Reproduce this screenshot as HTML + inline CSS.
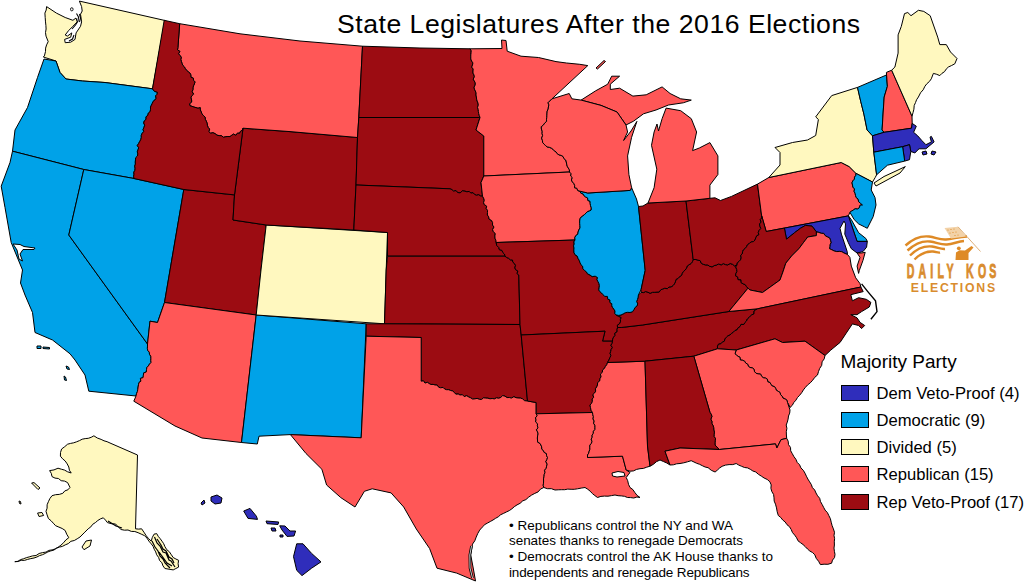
<!DOCTYPE html>
<html><head><meta charset="utf-8"><style>
html,body{margin:0;padding:0;background:#fff;width:1024px;height:584px;overflow:hidden}
svg{display:block}
text{font-family:"Liberation Sans",sans-serif}
</style></head><body>
<svg width="1024" height="584" viewBox="0 0 1024 584">
<g stroke="#000" stroke-width="1" stroke-linejoin="round">
<polygon fill="#fff8bf" points="46.6,6.6 56.4,13.1 65.2,17.5 72.9,20.3 76.0,18.0 77.2,21.9 72.9,26.3 68.5,30.7 65.2,35.0 67.4,36.1 71.8,32.9 70.7,37.2 64.6,39.4 65.2,42.7 70.7,42.2 75.0,39.4 76.1,32.9 80.5,26.3 81.6,21.9 80.5,14.2 82.2,11.0 81.6,6.6 79.4,1.1 165.0,20.5 152.5,88.8 105.0,82.5 82.5,81.0 66.0,79.0 60.0,72.5 56.0,61.0 43.3,57.0 44.4,55.9 45.5,51.5 45.6,48.1 46.6,44.9 48.2,41.6 46.0,36.1 45.5,32.6 46.1,29.0 45.9,25.4 45.5,21.9 45.2,17.5 44.9,13.1 46.2,10.0"/>
<polygon fill="#00a2e8" points="44.0,59.0 56.0,61.0 60.0,72.5 66.0,79.0 82.5,81.0 105.0,82.5 152.5,88.8 154.4,91.3 157.4,92.2 157.1,94.3 155.6,95.9 156.1,98.3 154.9,100.0 153.0,101.5 152.3,103.4 151.4,105.2 150.5,107.1 150.5,109.3 150.2,111.6 148.3,113.1 147.9,115.3 146.0,116.8 146.1,119.3 144.3,120.9 143.7,123.0 144.7,125.2 144.0,127.3 143.1,129.4 143.7,131.6 142.2,133.3 141.3,135.3 141.3,137.7 140.7,139.8 139.6,141.7 138.6,143.6 137.3,145.5 138.7,147.8 138.0,149.8 137.3,151.8 137.8,153.9 137.5,156.0 135.7,157.8 135.5,159.9 135.3,162.0 135.4,164.1 134.7,166.1 135.1,168.2 134.9,170.3 133.8,172.2 134.0,174.3 133.6,176.4 134.0,178.5 83.8,169.5 12.5,151.2 15.0,130.0 27.5,107.5 37.5,77.5"/>
<polygon fill="#00a2e8" points="12.5,151.2 83.8,169.5 68.8,235.0 147.5,344.0 147.5,346.1 147.4,348.3 147.7,350.3 149.3,352.2 149.5,354.3 150.8,356.2 150.9,358.3 150.8,360.4 151.0,362.5 149.5,364.1 148.4,365.9 146.9,367.5 146.5,369.7 146.3,372.0 143.7,372.9 143.4,375.2 143.1,377.6 140.4,378.4 140.9,381.2 139.0,382.5 138.5,384.7 138.1,387.0 137.8,389.3 137.4,391.6 136.5,393.7 136.0,396.0 88.8,391.2 85.0,375.0 75.0,360.0 70.0,353.8 52.5,340.0 35.0,332.5 32.5,312.5 25.0,295.0 20.5,283.0 22.5,270.0 11.2,242.5 5.0,207.5 1.2,186.2 10.0,162.5"/>
<polygon fill="#00a2e8" points="83.8,169.5 134.0,178.5 183.8,189.5 164.5,302.5 157.5,322.5 150.0,321.2 147.5,344.0 68.8,235.0"/>
<polygon fill="#9c0c12" points="183.8,189.5 234.5,194.9 233.0,220.0 266.2,225.0 261.0,270.0 256.2,315.0 164.5,302.5"/>
<polygon fill="#ff5757" points="164.5,302.5 256.2,315.0 241.5,442.5 202.0,438.0 175.0,426.0 133.8,401.2 136.0,396.0 136.5,393.7 137.4,391.6 137.8,389.3 138.1,387.0 138.5,384.7 139.0,382.5 140.9,381.2 140.4,378.4 143.1,377.6 143.4,375.2 143.7,372.9 146.3,372.0 146.5,369.7 146.9,367.5 148.4,365.9 149.5,364.1 151.0,362.5 150.8,360.4 150.9,358.3 150.8,356.2 149.5,354.3 149.3,352.2 147.7,350.3 147.4,348.3 147.5,346.1 147.5,344.0 150.0,321.2 157.5,322.5"/>
<polygon fill="#00a2e8" points="256.2,315.0 366.2,323.8 361.2,437.8 290.4,434.6 259.0,436.2 257.3,444.0 241.5,442.5"/>
<polygon fill="#fff8bf" points="266.2,225.0 387.5,232.5 386.2,270.0 384.5,323.8 256.2,315.0 261.0,270.0"/>
<polygon fill="#9c0c12" points="243.0,128.2 290.0,131.6 357.5,137.5 356.0,185.0 353.8,230.0 266.2,225.0 233.0,220.0 234.5,194.9"/>
<polygon fill="#ff5757" points="179.7,23.7 240.0,33.8 300.0,41.0 362.5,46.2 358.8,117.5 357.5,137.5 290.0,131.6 243.0,128.2 242.3,130.2 240.4,131.4 239.6,133.3 237.5,133.1 235.9,135.3 233.6,134.1 231.8,135.2 230.0,136.6 227.9,136.5 225.9,136.7 223.5,137.3 221.5,135.7 219.2,135.6 217.0,135.2 215.0,133.6 212.9,132.7 210.5,133.3 208.9,131.6 209.6,129.1 208.1,127.4 207.4,125.3 207.1,123.2 206.3,121.2 205.3,119.3 205.1,117.1 203.4,115.5 201.9,113.8 201.2,111.8 200.3,109.9 200.2,107.6 198.0,108.3 196.0,107.6 194.0,107.1 192.0,106.3 190.0,105.9 189.5,103.7 191.6,102.1 191.6,100.0 190.9,97.7 191.7,95.8 193.6,94.1 192.1,91.7 192.9,89.8 193.0,87.7 193.5,85.8 194.4,83.9 195.0,81.9 193.6,80.4 193.3,78.1 190.9,77.2 190.8,74.8 189.9,73.0 188.2,71.7 186.5,70.3 185.3,68.6 184.3,66.8 182.8,65.4 182.0,63.4 181.4,61.4 180.8,59.5 181.3,57.3 180.0,55.5 178.5,53.8 179.9,51.4 177.5,49.9 177.9,47.7"/>
<polygon fill="#9c0c12" points="164.2,20.3 179.7,23.7 177.9,47.7 177.5,49.9 179.9,51.4 178.5,53.8 180.0,55.5 181.3,57.3 180.8,59.5 181.4,61.4 182.0,63.4 182.8,65.4 184.3,66.8 185.3,68.6 186.5,70.3 188.2,71.7 189.9,73.0 190.8,74.8 190.9,77.2 193.3,78.1 193.6,80.4 195.0,81.9 194.4,83.9 193.5,85.8 193.0,87.7 192.9,89.8 192.1,91.7 193.6,94.1 191.7,95.8 190.9,97.7 191.6,100.0 191.6,102.1 189.5,103.7 190.0,105.9 192.0,106.3 194.0,107.1 196.0,107.6 198.0,108.3 200.2,107.6 200.3,109.9 201.2,111.8 201.9,113.8 203.4,115.5 205.1,117.1 205.3,119.3 206.3,121.2 207.1,123.2 207.4,125.3 208.1,127.4 209.6,129.1 208.9,131.6 210.5,133.3 212.9,132.7 215.0,133.6 217.0,135.2 219.2,135.6 221.5,135.7 223.5,137.3 225.9,136.7 227.9,136.5 230.0,136.6 231.8,135.2 233.6,134.1 235.9,135.3 237.5,133.1 239.6,133.3 240.4,131.4 242.3,130.2 243.0,128.2 234.5,194.9 183.8,189.5 134.0,178.5 133.6,176.4 134.0,174.3 133.8,172.2 134.9,170.3 135.1,168.2 134.7,166.1 135.4,164.1 135.3,162.0 135.5,159.9 135.7,157.8 137.5,156.0 137.8,153.9 137.3,151.8 138.0,149.8 138.7,147.8 137.3,145.5 138.6,143.6 139.6,141.7 140.7,139.8 141.3,137.7 141.3,135.3 142.2,133.3 143.7,131.6 143.1,129.4 144.0,127.3 144.7,125.2 143.7,123.0 144.3,120.9 146.1,119.3 146.0,116.8 147.9,115.3 148.3,113.1 150.2,111.6 150.5,109.3 150.5,107.1 151.4,105.2 152.3,103.4 153.0,101.5 154.9,100.0 156.1,98.3 155.6,95.9 157.1,94.3 157.4,92.2 154.4,91.3 152.5,88.8"/>
<polygon fill="#9c0c12" points="362.5,46.2 420.0,48.0 470.0,48.8 471.2,50.6 471.1,52.7 470.8,54.9 470.8,56.9 470.8,59.0 471.6,61.0 472.9,62.9 472.5,65.0 471.7,67.1 473.2,69.0 473.0,71.0 473.0,73.1 474.0,75.0 474.4,76.9 473.2,79.1 474.3,81.0 475.3,82.9 475.2,85.0 474.1,87.1 474.4,89.1 475.4,91.0 476.1,93.0 476.0,95.0 476.4,97.0 476.6,99.1 477.2,101.1 478.0,103.1 478.3,105.1 477.5,107.4 478.2,109.4 478.4,111.5 478.7,113.5 479.3,115.5 480.0,117.5 358.8,117.5"/>
<polygon fill="#9c0c12" points="358.8,117.5 480.0,117.5 476.0,130.0 483.8,136.0 483.8,176.0 481.0,182.5 482.5,196.2 480.5,196.0 478.7,194.7 476.5,195.3 474.6,194.5 473.0,192.7 470.8,193.1 469.2,191.4 466.9,191.8 465.0,191.2 462.4,190.9 460.1,192.9 457.5,192.5 456.1,190.6 453.5,191.1 451.9,189.6 450.0,188.8 356.0,185.0 357.5,137.5"/>
<polygon fill="#9c0c12" points="356.0,185.0 450.0,188.8 451.9,189.6 453.5,191.1 456.1,190.6 457.5,192.5 460.1,192.9 462.4,190.9 465.0,191.2 466.9,191.8 469.2,191.4 470.8,193.1 473.0,192.7 474.6,194.5 476.5,195.3 478.7,194.7 480.5,196.0 482.5,196.2 483.6,198.1 484.3,200.2 483.6,202.6 484.3,204.6 486.7,206.1 486.2,208.4 487.5,210.3 487.5,212.5 487.4,215.0 488.7,216.8 489.1,219.1 491.6,220.5 492.6,222.6 492.5,225.0 494.0,227.0 492.6,229.6 493.3,231.7 495.3,233.5 494.9,235.9 495.0,238.2 495.9,240.3 496.2,242.5 496.7,245.4 498.8,247.5 499.4,249.7 502.0,250.4 502.8,252.5 504.5,254.0 505.0,256.2 387.5,256.2 387.5,232.5 353.8,230.0"/>
<polygon fill="#9c0c12" points="387.5,256.2 505.0,256.2 506.7,257.5 508.7,258.3 510.3,259.8 512.5,260.0 512.8,262.1 514.5,263.6 515.5,265.3 514.9,267.8 515.6,269.7 517.9,271.0 517.0,273.5 518.8,275.0 520.0,324.5 384.5,323.8 386.2,270.0"/>
<polygon fill="#9c0c12" points="366.2,323.8 384.5,323.8 520.0,324.5 521.2,335.0 527.5,401.0 524.6,400.7 522.5,398.8 520.4,398.1 518.1,398.0 516.0,397.7 513.9,396.7 511.4,398.1 509.3,397.5 507.0,397.6 505.0,396.2 502.7,395.6 500.8,397.4 498.7,398.3 496.5,397.8 494.4,398.9 492.2,398.5 490.0,398.8 487.9,398.2 485.7,398.1 483.6,397.8 481.4,399.5 479.3,399.3 477.1,398.4 475.0,398.8 472.6,399.1 470.7,397.8 468.6,396.9 466.7,395.7 464.2,396.6 462.4,394.7 460.0,395.0 458.2,394.0 455.8,394.2 454.3,392.4 452.7,391.0 450.6,390.5 448.7,389.7 446.5,389.7 444.6,389.0 443.0,387.4 440.6,387.8 438.6,387.2 437.2,385.1 435.0,385.0 433.1,384.4 430.9,384.5 429.1,383.5 427.3,382.3 425.0,383.1 423.5,380.8 421.2,381.2 421.2,337.5 366.2,336.2"/>
<polygon fill="#ff5757" points="366.2,336.2 421.2,337.5 421.2,381.2 423.5,380.8 425.0,383.1 427.3,382.3 429.1,383.5 430.9,384.5 433.1,384.4 435.0,385.0 437.2,385.1 438.6,387.2 440.6,387.8 443.0,387.4 444.6,389.0 446.5,389.7 448.7,389.7 450.6,390.5 452.7,391.0 454.3,392.4 455.8,394.2 458.2,394.0 460.0,395.0 462.4,394.7 464.2,396.6 466.7,395.7 468.6,396.9 470.7,397.8 472.6,399.1 475.0,398.8 477.1,398.4 479.3,399.3 481.4,399.5 483.6,397.8 485.7,398.1 487.9,398.2 490.0,398.8 492.2,398.5 494.4,398.9 496.5,397.8 498.7,398.3 500.8,397.4 502.7,395.6 505.0,396.2 507.0,397.6 509.3,397.5 511.4,398.1 513.9,396.7 516.0,397.7 518.1,398.0 520.4,398.1 522.5,398.8 524.6,400.7 527.5,401.0 536.2,402.5 536.2,413.8 537.2,415.7 535.5,417.8 536.0,419.8 535.6,421.9 537.6,423.8 537.4,425.8 538.0,427.8 536.4,429.9 537.6,431.9 538.1,433.9 537.6,435.9 537.4,438.0 537.5,440.0 537.7,442.2 539.9,443.3 540.9,445.0 541.7,446.9 541.8,449.2 543.4,450.5 544.2,452.4 546.4,453.5 546.6,455.7 547.5,457.5 546.9,459.6 545.8,461.6 547.2,464.1 546.6,466.2 546.2,468.3 544.6,470.2 545.0,472.5 544.2,474.6 544.0,476.7 543.5,478.9 543.6,481.0 543.5,483.2 543.2,485.3 543.8,487.5 540.5,489.1 538.1,491.9 534.8,493.4 531.6,495.1 528.6,497.2 525.9,499.6 522.7,500.9 520.1,503.3 517.0,504.9 514.3,506.7 511.9,508.8 509.3,510.6 506.3,512.0 503.5,513.4 500.7,514.7 498.3,516.8 495.6,518.3 493.0,520.0 490.3,521.5 487.6,523.0 484.9,524.5 482.2,527.2 479.7,530.1 477.8,533.4 476.2,537.1 474.8,540.8 472.5,544.1 470.7,554.8 473.4,569.0 475.5,581.0 456.7,573.1 437.0,568.2 429.6,548.5 416.3,529.0 403.7,507.0 391.1,492.9 372.2,488.8 364.4,491.3 355.0,507.0 340.8,497.6 326.6,485.0 321.9,469.3 306.0,453.5 290.4,434.6 361.2,437.8"/>
<polygon fill="#ff5757" points="470.0,48.8 502.0,48.5 501.5,40.0 506.0,40.5 507.2,51.2 521.0,56.2 538.5,57.5 556.0,61.6 566.5,63.0 579.8,64.3 587.8,65.6 552.0,98.8 548.0,102.8 548.9,104.9 548.4,107.0 548.2,109.0 547.2,111.1 547.0,113.1 546.9,115.2 546.8,117.3 546.5,119.3 546.6,121.4 544.7,123.1 543.3,125.2 541.3,126.7 541.4,129.0 542.2,131.2 542.1,133.5 542.6,135.7 541.6,138.1 542.4,140.3 542.7,142.6 544.1,144.2 545.6,145.6 547.1,146.9 549.3,147.3 551.3,148.1 552.9,149.2 554.3,150.8 556.0,151.9 557.2,153.6 558.9,154.8 561.1,155.4 563.0,156.4 563.9,158.5 565.7,160.0 566.3,162.0 566.7,164.1 567.2,166.2 568.3,168.0 569.4,169.8 569.5,172.0 483.8,176.0 483.8,136.0 476.0,130.0 480.0,117.5 479.3,115.5 478.7,113.5 478.4,111.5 478.2,109.4 477.5,107.4 478.3,105.1 478.0,103.1 477.2,101.1 476.6,99.1 476.4,97.0 476.0,95.0 476.1,93.0 475.4,91.0 474.4,89.1 474.1,87.1 475.2,85.0 475.3,82.9 474.3,81.0 473.2,79.1 474.4,76.9 474.0,75.0 473.0,73.1 473.0,71.0 473.2,69.0 471.7,67.1 472.5,65.0 472.9,62.9 471.6,61.0 470.8,59.0 470.8,56.9 470.8,54.9 471.1,52.7 471.2,50.6"/>
<polygon fill="#ff5757" points="483.8,176.0 569.5,172.0 571.1,173.7 570.7,176.0 572.3,177.6 571.4,180.0 572.4,181.9 573.9,183.6 574.7,185.5 574.5,187.7 576.8,188.2 577.8,190.6 580.0,191.2 580.9,193.2 583.0,193.9 584.1,195.8 585.7,197.0 587.6,197.9 587.9,200.5 590.0,201.2 590.2,203.5 590.5,205.6 591.3,207.8 591.2,210.0 589.4,211.0 587.4,211.7 586.0,213.2 584.5,214.5 582.9,215.9 581.2,217.0 580.0,218.8 579.7,221.0 579.7,223.3 579.9,225.6 580.0,227.9 578.8,230.0 578.1,232.0 577.8,234.2 575.7,235.7 574.8,237.7 575.0,240.0 496.2,242.5 495.9,240.3 495.0,238.2 494.9,235.9 495.3,233.5 493.3,231.7 492.6,229.6 494.0,227.0 492.5,225.0 492.6,222.6 491.6,220.5 489.1,219.1 488.7,216.8 487.4,215.0 487.5,212.5 487.5,210.3 486.2,208.4 486.7,206.1 484.3,204.6 483.6,202.6 484.3,200.2 483.6,198.1 482.5,196.2 481.0,182.5"/>
<polygon fill="#9c0c12" points="496.2,242.5 575.0,240.0 573.9,241.9 574.2,244.0 573.5,245.9 574.0,248.0 573.8,250.0 574.0,252.5 574.9,254.6 577.2,256.1 578.0,258.3 579.2,260.3 580.0,262.5 580.9,264.6 582.6,266.2 582.9,268.7 584.4,270.4 586.4,271.8 587.5,273.8 590.0,275.0 592.2,276.6 595.2,276.2 597.5,277.5 597.0,279.7 598.0,281.7 599.0,283.7 599.4,285.7 599.1,287.9 598.8,290.0 600.0,291.8 601.7,293.1 603.2,294.7 604.6,296.4 607.4,296.4 607.8,299.2 610.0,300.0 609.8,302.3 611.8,303.7 611.8,305.8 612.7,307.7 614.0,309.3 615.0,311.1 614.8,313.4 616.2,315.0 618.7,316.3 621.2,317.5 620.4,319.5 620.5,321.8 619.6,323.7 617.4,325.2 617.5,327.5 617.1,329.6 617.1,331.8 614.8,333.2 615.0,335.5 613.6,337.2 612.7,339.1 612.5,341.2 602.5,341.2 605.0,331.2 521.2,335.0 520.0,324.5 518.8,275.0 517.0,273.5 517.9,271.0 515.6,269.7 514.9,267.8 515.5,265.3 514.5,263.6 512.8,262.1 512.5,260.0 510.3,259.8 508.7,258.3 506.7,257.5 505.0,256.2 504.5,254.0 502.8,252.5 502.0,250.4 499.4,249.7 498.8,247.5 496.7,245.4"/>
<polygon fill="#9c0c12" points="521.2,335.0 605.0,331.2 602.5,341.2 612.5,341.2 612.2,343.3 610.9,345.2 612.4,347.5 611.2,349.4 610.7,351.4 610.1,353.4 610.9,355.6 610.0,357.5 608.9,360.1 607.5,362.5 606.8,364.7 605.4,366.5 604.4,368.5 602.5,370.0 602.4,372.3 600.4,374.1 601.1,376.7 600.0,378.7 599.7,381.0 597.6,382.6 597.5,385.0 596.7,387.0 595.4,388.8 595.7,391.2 594.6,393.0 592.9,394.7 593.7,397.3 592.2,399.0 592.4,401.3 591.6,403.3 590.0,405.0 590.5,407.6 591.0,410.2 592.5,412.5 536.2,413.8 536.2,402.5 527.5,401.0"/>
<polygon fill="#ff5757" points="536.2,413.8 592.5,412.5 592.8,414.7 593.4,416.7 593.0,419.0 594.2,421.0 593.6,423.3 594.9,425.3 595.0,427.5 594.9,429.6 593.4,431.3 593.3,433.4 592.1,435.2 592.2,437.3 591.2,439.1 592.0,441.5 591.4,443.4 589.9,445.1 589.8,447.2 589.9,449.3 589.2,451.2 588.7,453.2 587.5,455.0 587.5,457.5 622.5,456.2 626.2,470.0 630.0,472.5 628.1,474.9 626.2,477.5 627.7,480.7 628.5,484.3 630.0,487.5 632.9,489.6 634.9,492.6 637.1,495.4 640.0,497.5 636.9,497.0 633.8,498.0 630.6,497.6 627.5,497.5 624.5,496.3 621.3,495.9 618.1,495.7 615.0,495.0 611.5,495.6 608.0,496.2 604.4,496.1 600.9,496.4 597.5,497.5 594.9,495.6 592.4,493.6 590.2,491.2 587.7,489.2 585.0,487.5 581.2,488.1 577.5,488.8 574.3,489.3 571.1,489.3 567.8,489.1 564.7,489.7 561.4,489.7 558.2,489.8 555.0,490.0 551.4,488.7 547.4,488.7 543.8,487.5 543.2,485.3 543.5,483.2 543.6,481.0 543.5,478.9 544.0,476.7 544.2,474.6 545.0,472.5 544.6,470.2 546.2,468.3 546.6,466.2 547.2,464.1 545.8,461.6 546.9,459.6 547.5,457.5 546.6,455.7 546.4,453.5 544.2,452.4 543.4,450.5 541.8,449.2 541.7,446.9 540.9,445.0 539.9,443.3 537.7,442.2 537.5,440.0 537.4,438.0 537.6,435.9 538.1,433.9 537.6,431.9 536.4,429.9 538.0,427.8 537.4,425.8 537.6,423.8 535.6,421.9 536.0,419.8 535.5,417.8 537.2,415.7"/>
<polygon fill="#ff5757" points="607.5,362.5 645.0,361.2 647.5,446.0 650.0,466.2 646.7,467.2 643.4,468.4 640.0,468.7 636.6,469.4 633.5,470.9 630.0,471.2 626.2,470.0 622.5,456.2 587.5,457.5 587.5,455.0 588.7,453.2 589.2,451.2 589.9,449.3 589.8,447.2 589.9,445.1 591.4,443.4 592.0,441.5 591.2,439.1 592.2,437.3 592.1,435.2 593.3,433.4 593.4,431.3 594.9,429.6 595.0,427.5 594.9,425.3 593.6,423.3 594.2,421.0 593.0,419.0 593.4,416.7 592.8,414.7 592.5,412.5 591.0,410.2 590.5,407.6 590.0,405.0 591.6,403.3 592.4,401.3 592.2,399.0 593.7,397.3 592.9,394.7 594.6,393.0 595.7,391.2 595.4,388.8 596.7,387.0 597.5,385.0 597.6,382.6 599.7,381.0 600.0,378.7 601.1,376.7 600.4,374.1 602.4,372.3 602.5,370.0 604.4,368.5 605.4,366.5 606.8,364.7"/>
<polygon fill="#9c0c12" points="621.2,327.5 642.5,325.0 728.8,311.5 757.5,308.8 755.7,309.9 754.0,311.1 754.0,313.9 751.9,314.8 750.2,316.1 749.0,317.7 747.3,319.0 746.5,321.1 745.0,322.5 743.8,324.5 741.0,324.4 740.0,326.7 738.1,327.8 737.0,329.9 734.8,330.6 733.4,332.3 731.5,333.4 730.0,335.0 727.9,335.9 726.4,337.3 725.0,338.9 724.3,341.3 722.3,342.1 720.9,343.8 718.5,344.2 717.5,346.2 717.5,348.8 693.8,356.2 645.0,361.2 607.5,362.5 608.9,360.1 610.0,357.5 610.9,355.6 610.1,353.4 610.7,351.4 611.2,349.4 612.4,347.5 610.9,345.2 612.2,343.3 612.5,341.2 612.7,339.1 613.6,337.2 615.0,335.5 614.8,333.2 617.1,331.8 617.1,329.6 617.5,327.5"/>
<polygon fill="#9c0c12" points="616.2,315.0 618.7,315.4 621.0,315.0 623.2,313.9 625.3,312.7 627.6,312.3 630.0,312.5 632.5,311.7 633.9,309.7 635.1,307.4 637.0,306.0 637.7,303.9 636.6,301.5 637.5,299.4 638.1,297.2 638.4,295.0 641.1,292.3 643.4,292.6 645.7,291.5 648.0,292.3 650.2,293.3 652.5,292.3 654.8,292.3 657.0,292.1 659.2,292.0 660.8,289.7 662.8,289.0 664.8,288.2 667.3,288.7 669.0,287.0 671.2,286.8 673.1,285.5 674.4,283.8 675.4,281.8 676.0,279.4 678.2,278.4 679.5,276.6 681.5,275.5 682.2,273.2 683.5,271.4 685.2,270.0 686.5,268.2 687.2,266.0 689.1,264.7 691.1,263.5 692.4,261.7 693.2,259.5 695.9,259.5 698.0,260.2 700.2,260.6 701.3,263.3 703.3,264.3 705.4,264.9 707.8,265.0 709.6,266.3 712.1,266.9 714.2,265.6 716.5,265.0 718.6,264.0 721.2,264.9 723.3,263.6 725.5,264.6 727.8,264.9 730.2,263.5 732.5,264.3 734.6,265.9 737.0,265.0 735.7,267.0 736.7,269.4 736.9,271.6 735.8,273.7 735.6,275.9 737.7,276.9 738.1,279.6 741.0,279.8 741.2,282.7 743.2,283.8 745.3,284.7 746.5,286.6 748.0,288.2 728.8,311.5 642.5,325.0 621.2,327.5 617.5,327.5 617.4,325.2 619.6,323.7 620.5,321.8 620.4,319.5 621.2,317.5 618.7,316.3"/>
<polygon fill="#00a2e8" points="580.0,191.2 587.8,193.0 630.3,190.4 631.6,187.7 636.5,199.0 638.5,206.5 645.2,270.4 641.1,289.6 638.4,295.0 638.1,297.2 637.5,299.4 636.6,301.5 637.7,303.9 637.0,306.0 635.1,307.4 633.9,309.7 632.5,311.7 630.0,312.5 627.6,312.3 625.3,312.7 623.2,313.9 621.0,315.0 618.7,315.4 616.2,315.0 614.8,313.4 615.0,311.1 614.0,309.3 612.7,307.7 611.8,305.8 611.8,303.7 609.8,302.3 610.0,300.0 607.8,299.2 607.4,296.4 604.6,296.4 603.2,294.7 601.7,293.1 600.0,291.8 598.8,290.0 599.1,287.9 599.4,285.7 599.0,283.7 598.0,281.7 597.0,279.7 597.5,277.5 595.2,276.2 592.2,276.6 590.0,275.0 587.5,273.8 586.4,271.8 584.4,270.4 582.9,268.7 582.6,266.2 580.9,264.6 580.0,262.5 579.2,260.3 578.0,258.3 577.2,256.1 574.9,254.6 574.0,252.5 573.8,250.0 574.0,248.0 573.5,245.9 574.2,244.0 573.9,241.9 575.0,240.0 574.8,237.7 575.7,235.7 577.8,234.2 578.1,232.0 578.8,230.0 580.0,227.9 579.9,225.6 579.7,223.3 579.7,221.0 580.0,218.8 581.2,217.0 582.9,215.9 584.5,214.5 586.0,213.2 587.4,211.7 589.4,211.0 591.2,210.0 591.3,207.8 590.5,205.6 590.2,203.5 590.0,201.2 587.9,200.5 587.6,197.9 585.7,197.0 584.1,195.8 583.0,193.9 580.9,193.2"/>
<polygon fill="#9c0c12" points="638.5,206.5 643.0,206.0 648.0,203.0 686.0,201.0 693.2,259.5 692.4,261.7 691.1,263.5 689.1,264.7 687.2,266.0 686.5,268.2 685.2,270.0 683.5,271.4 682.2,273.2 681.5,275.5 679.5,276.6 678.2,278.4 676.0,279.4 675.4,281.8 674.4,283.8 673.1,285.5 671.2,286.8 669.0,287.0 667.3,288.7 664.8,288.2 662.8,289.0 660.8,289.7 659.2,292.0 657.0,292.1 654.8,292.3 652.5,292.3 650.2,293.3 648.0,292.3 645.7,291.5 643.4,292.6 641.1,292.3 641.1,289.6 645.2,270.4"/>
<polygon fill="#9c0c12" points="686.0,201.0 709.9,198.3 715.0,197.8 720.5,200.5 731.5,196.4 757.5,184.1 761.6,215.6 761.9,217.8 760.2,219.7 761.1,222.1 759.5,224.0 759.9,226.2 760.8,228.5 759.1,230.5 758.3,232.5 758.9,234.8 756.8,235.7 755.8,237.8 755.0,240.0 753.5,241.6 750.9,242.0 749.4,243.5 747.5,244.7 746.5,246.8 745.2,248.5 743.4,249.9 742.6,251.8 742.3,253.9 740.7,255.4 741.2,257.9 740.5,259.9 739.1,261.5 737.3,262.8 737.0,265.0 734.6,265.9 732.5,264.3 730.2,263.5 727.8,264.9 725.5,264.6 723.3,263.6 721.2,264.9 718.6,264.0 716.5,265.0 714.2,265.6 712.1,266.9 709.6,266.3 707.8,265.0 705.4,264.9 703.3,264.3 701.3,263.3 700.2,260.6 698.0,260.2 695.9,259.5 693.2,259.5"/>
<polygon fill="#ff5757" points="666.1,108.1 680.7,110.7 691.3,118.7 696.6,132.0 692.6,150.6 699.3,148.0 709.9,142.6 717.9,155.9 717.9,174.5 709.9,185.1 709.9,198.3 686.0,201.0 648.0,203.0 654.1,187.7 656.8,169.2 651.5,145.3 654.1,132.0 657.0,124.0 658.5,131.0 662.1,118.7"/>
<polygon fill="#ff5757" points="581.1,100.1 595.7,90.8 607.7,84.2 611.7,76.2 619.6,76.2 610.3,84.2 610.3,89.5 619.6,88.2 632.9,96.1 646.2,94.8 662.1,86.9 670.1,93.5 680.7,98.8 691.3,100.1 683.3,102.8 668.5,105.0 656.0,110.0 643.5,113.8 633.5,121.2 626.0,125.0 617.0,112.0 601.0,105.4"/>
<polygon fill="#ff5757" points="552.0,98.8 569.2,93.5 571.9,98.8 581.1,100.1 601.0,105.4 617.0,112.0 626.0,125.0 627.6,132.0 623.6,140.5 631.0,131.0 636.9,121.4 634.0,130.0 631.6,137.3 627.6,155.9 628.9,174.5 631.6,187.7 630.3,190.4 587.8,193.0 580.0,191.2 577.8,190.6 576.8,188.2 574.5,187.7 574.7,185.5 573.9,183.6 572.4,181.9 571.4,180.0 572.3,177.6 570.7,176.0 571.1,173.7 569.5,172.0 569.4,169.8 568.3,168.0 567.2,166.2 566.7,164.1 566.3,162.0 565.7,160.0 563.9,158.5 563.0,156.4 561.1,155.4 558.9,154.8 557.2,153.6 556.0,151.9 554.3,150.8 552.9,149.2 551.3,148.1 549.3,147.3 547.1,146.9 545.6,145.6 544.1,144.2 542.7,142.6 542.4,140.3 541.6,138.1 542.6,135.7 542.1,133.5 542.2,131.2 541.4,129.0 541.3,126.7 543.3,125.2 544.7,123.1 546.6,121.4 546.5,119.3 546.8,117.3 546.9,115.2 547.0,113.1 547.2,111.1 548.2,109.0 548.4,107.0 548.9,104.9 548.0,102.8"/>
<polygon fill="#ff5757" points="757.5,184.1 768.8,177.5 841.2,162.5 849.2,166.6 856.0,173.4 855.8,175.4 854.5,177.2 854.4,179.2 852.8,180.9 852.0,182.8 852.5,185.0 852.9,187.1 854.5,188.9 854.1,191.3 855.1,193.3 855.5,195.4 856.2,197.5 858.1,199.1 858.7,201.8 860.6,203.4 862.5,205.0 860.2,205.1 859.3,207.8 857.6,209.0 855.1,208.8 853.4,210.0 851.6,211.1 849.9,212.3 848.4,215.9 766.2,231.5 761.6,215.6"/>
<polygon fill="#fff8bf" points="768.8,177.5 780.0,165.0 780.0,152.5 775.0,147.5 792.5,142.5 807.5,140.0 815.7,135.5 818.4,119.5 815.7,116.9 831.7,95.6 857.5,87.4 860.7,101.3 863.9,114.1 867.1,130.0 872.5,135.8 873.8,152.2 876.6,174.8 875.2,177.5 872.5,182.0 856.0,173.4 849.2,166.6 841.2,162.5"/>
<polygon fill="#fff8bf" points="874.0,183.0 884.0,176.5 897.0,170.5 905.3,166.6 900.0,173.0 888.0,179.5 876.0,186.0"/>
<polygon fill="#00a2e8" points="856.0,173.4 872.5,182.0 871.2,190.0 875.0,197.5 876.0,205.0 873.2,216.6 867.3,228.3 864.4,226.8 858.6,223.9 854.2,219.6 849.9,212.3 851.6,211.1 853.4,210.0 855.1,208.8 857.6,209.0 859.3,207.8 860.2,205.1 862.5,205.0 860.6,203.4 858.7,201.8 858.1,199.1 856.2,197.5 855.5,195.4 855.1,193.3 854.1,191.3 854.5,188.9 852.9,187.1 852.5,185.0 852.0,182.8 852.8,180.9 854.4,179.2 854.5,177.2 855.8,175.4"/>
<polygon fill="#00a2e8" points="848.4,215.9 851.3,219.6 858.6,232.7 865.9,238.5 867.3,241.4 857.1,241.4"/>
<polygon fill="#2f2dbb" points="784.4,228.1 848.4,215.9 857.1,241.4 867.3,241.4 866.6,247.2 863.0,251.6 857.1,253.0 851.3,248.7 848.4,242.8 844.8,234.1 845.5,223.9 844.0,221.0 840.0,228.3 841.4,234.1 844.3,242.8 847.2,251.6 847.5,254.5 844.0,253.0 841.8,251.7 839.3,251.4 836.8,251.6 834.2,251.0 831.9,249.8 829.5,248.7 829.8,246.7 830.0,244.6 831.0,242.8 830.5,240.2 829.5,237.8 827.2,236.8 825.1,235.6 823.7,233.4 821.2,233.3 818.8,232.4 816.4,231.9 812.0,226.1 805.5,225.4 800.4,228.3 794.6,232.7 786.5,239.2"/>
<polygon fill="#9c0c12" points="761.6,215.6 766.2,231.5 784.4,228.1 786.5,239.2 794.6,232.7 800.4,228.3 805.5,225.4 812.0,226.1 816.4,231.9 816.4,235.6 807.7,237.0 803.3,242.8 798.9,248.7 791.6,256.0 785.8,263.2 782.9,272.0 780.0,280.0 762.5,292.5 750.0,290.0 748.0,288.2 746.5,286.6 745.3,284.7 743.2,283.8 741.2,282.7 741.0,279.8 738.1,279.6 737.7,276.9 735.6,275.9 735.8,273.7 736.9,271.6 736.7,269.4 735.7,267.0 737.0,265.0 737.3,262.8 739.1,261.5 740.5,259.9 741.2,257.9 740.7,255.4 742.3,253.9 742.6,251.8 743.4,249.9 745.2,248.5 746.5,246.8 747.5,244.7 749.4,243.5 750.9,242.0 753.5,241.6 755.0,240.0 755.8,237.8 756.8,235.7 758.9,234.8 758.3,232.5 759.1,230.5 760.8,228.5 759.9,226.2 759.5,224.0 761.1,222.1 760.2,219.7 761.9,217.8"/>
<polygon fill="#ff5757" points="728.8,311.5 748.0,288.2 750.0,290.0 762.5,292.5 780.0,280.0 782.9,272.0 785.8,263.2 791.6,256.0 798.9,248.7 803.3,242.8 807.7,237.0 816.4,235.6 816.4,231.9 818.8,232.4 821.2,233.3 823.7,233.4 825.1,235.6 827.2,236.8 829.5,237.8 830.5,240.2 831.0,242.8 830.0,244.6 829.8,246.7 829.5,248.7 831.9,249.8 834.2,251.0 836.8,251.6 839.3,251.4 841.8,251.7 844.0,253.0 847.5,254.5 849.9,257.4 851.3,266.1 855.7,277.8 860.0,283.6 860.9,287.0 757.5,308.8"/>
<polygon fill="#ff5757" points="857.1,253.0 861.5,253.0 865.2,252.3 863.0,260.3 859.3,270.5 858.6,273.4 857.1,266.1 860.0,257.4"/>
<polygon fill="#9c0c12" points="757.5,308.8 860.9,287.0 863.2,291.6 850.8,294.7 852.4,300.8 858.6,297.7 866.3,299.3 870.9,302.4 869.3,307.0 861.6,311.6 857.0,314.7 850.8,314.7 857.0,317.8 860.1,322.4 864.7,325.5 861.6,328.6 858.6,325.5 852.4,323.9 846.2,333.2 840.1,342.4 830.8,350.1 825.0,355.5 805.0,341.2 782.5,342.5 775.0,338.8 736.2,350.0 717.5,348.8 717.5,346.2 718.5,344.2 720.9,343.8 722.3,342.1 724.3,341.3 725.0,338.9 726.4,337.3 727.9,335.9 730.0,335.0 731.5,333.4 733.4,332.3 734.8,330.6 737.0,329.9 738.1,327.8 740.0,326.7 741.0,324.4 743.8,324.5 745.0,322.5 746.5,321.1 747.3,319.0 749.0,317.7 750.2,316.1 751.9,314.8 754.0,313.9 754.0,311.1 755.7,309.9"/>
<polygon fill="#ff5757" points="736.2,350.0 775.0,338.8 782.5,342.5 805.0,341.2 825.0,355.5 824.2,358.9 822.1,361.8 821.7,365.4 819.7,368.4 818.5,371.6 817.5,375.0 814.8,377.3 812.7,380.2 810.3,382.8 807.5,385.0 805.4,387.4 803.4,389.9 801.7,392.7 799.7,395.2 797.5,397.5 795.9,400.2 793.8,402.5 792.3,405.3 790.0,407.5 788.9,404.9 787.5,402.5 787.0,400.3 785.2,399.0 783.0,398.1 782.1,396.2 780.6,394.7 780.0,392.5 778.3,391.4 776.4,390.3 775.6,388.3 774.5,386.6 772.2,386.0 771.0,384.4 770.0,382.5 767.9,381.9 767.3,379.1 765.5,378.1 763.2,377.7 761.6,376.3 760.6,374.1 758.2,373.9 756.1,373.3 754.6,371.8 754.0,369.2 752.3,367.9 750.0,367.5 748.4,366.3 747.6,364.1 745.7,363.1 744.7,361.3 742.8,360.3 740.3,360.0 740.0,357.3 738.1,356.4 736.5,355.1 735.0,353.8"/>
<polygon fill="#ff5757" points="693.8,356.2 717.5,348.8 736.2,350.0 735.0,353.8 736.5,355.1 738.1,356.4 740.0,357.3 740.3,360.0 742.8,360.3 744.7,361.3 745.7,363.1 747.6,364.1 748.4,366.3 750.0,367.5 752.3,367.9 754.0,369.2 754.6,371.8 756.1,373.3 758.2,373.9 760.6,374.1 761.6,376.3 763.2,377.7 765.5,378.1 767.3,379.1 767.9,381.9 770.0,382.5 771.0,384.4 772.2,386.0 774.5,386.6 775.6,388.3 776.4,390.3 778.3,391.4 780.0,392.5 780.6,394.7 782.1,396.2 783.0,398.1 785.2,399.0 787.0,400.3 787.5,402.5 790.0,410.0 789.7,413.1 788.5,416.0 788.1,419.1 787.3,422.1 786.2,425.0 786.9,428.3 786.3,431.7 786.4,435.0 786.7,438.3 781.0,439.7 776.9,448.0 775.5,443.9 719.3,449.5 715.0,445.0 715.0,442.8 715.2,440.7 715.5,438.5 714.0,436.5 714.1,434.3 714.4,432.1 713.8,430.0 713.7,427.7 713.1,425.6 711.9,423.5 711.9,421.2 710.8,419.2 711.9,416.7 711.4,414.5 710.0,412.5"/>
<polygon fill="#9c0c12" points="645.0,361.2 693.8,356.2 710.0,412.5 711.4,414.5 711.9,416.7 710.8,419.2 711.9,421.2 711.9,423.5 713.1,425.6 713.7,427.7 713.8,430.0 714.4,432.1 714.1,434.3 714.0,436.5 715.5,438.5 715.2,440.7 715.0,442.8 715.0,445.0 719.3,449.5 680.0,448.0 665.0,451.2 670.0,465.0 666.8,463.0 663.4,461.5 660.0,460.0 656.4,461.7 653.4,464.3 650.0,466.2 647.5,446.0"/>
<polygon fill="#ff5757" points="665.0,451.2 680.0,448.0 719.3,449.5 775.5,443.9 776.9,448.0 781.0,439.7 786.7,438.3 788.2,441.2 788.5,444.6 790.5,447.4 790.7,450.8 792.3,453.7 793.9,456.6 795.9,459.3 797.2,462.4 799.6,464.8 800.9,467.9 803.3,470.3 805.0,473.2 806.4,476.2 807.9,479.1 809.6,481.8 811.3,484.5 812.4,487.6 814.7,490.0 816.0,493.0 817.6,495.8 819.7,498.3 820.5,501.6 822.1,504.4 823.6,507.3 825.1,510.1 827.4,512.6 828.8,515.5 830.4,518.7 831.2,522.2 832.1,525.6 833.4,528.9 834.5,532.3 834.0,535.5 834.6,538.6 834.3,541.8 834.4,545.0 834.0,548.1 834.4,551.3 835.0,554.4 834.5,557.6 832.5,560.1 831.6,563.2 827.9,564.3 824.1,564.2 820.4,564.6 818.6,561.3 816.2,558.3 814.8,554.8 812.6,552.6 809.8,551.0 807.5,549.0 805.3,546.7 803.0,544.5 800.5,542.7 798.0,540.8 796.6,537.8 794.7,535.1 792.5,532.6 791.2,529.5 789.5,526.7 787.0,524.7 785.2,522.0 782.7,520.0 780.8,517.5 778.3,515.5 777.2,511.8 776.5,507.9 775.5,504.2 774.2,501.1 774.0,497.8 773.6,494.5 771.8,491.5 770.9,488.3 771.2,484.9 769.9,481.8 767.3,479.5 764.1,478.0 761.3,476.1 758.4,474.3 755.8,472.0 752.9,471.0 750.3,469.3 747.6,467.9 744.5,467.5 741.6,466.3 738.8,465.1 736.2,463.5 732.8,464.6 729.1,464.6 725.5,465.1 722.1,466.3 719.6,468.0 717.4,470.1 715.1,472.0 711.3,470.3 708.1,467.7 705.1,467.0 702.3,465.7 699.6,464.3 696.7,463.3 694.0,462.0 691.2,460.7 687.5,461.8 683.8,462.8 680.0,463.5 676.6,463.8 673.4,464.8 670.0,465.0"/>
<polygon fill="#00a2e8" points="857.5,87.4 886.4,75.0 887.4,86.3 884.2,97.0 883.2,112.0 882.1,130.0 884.1,132.3 872.5,135.8 867.1,130.0 863.9,114.1 860.7,101.3"/>
<polygon fill="#ff5757" points="886.4,72.4 891.7,70.2 912.0,116.2 912.2,123.4 911.5,128.2 884.1,132.3 882.1,130.0 883.2,112.0 884.2,97.0 887.4,86.3"/>
<polygon fill="#fff8bf" points="904.5,13.6 907.8,12.5 911.0,15.7 918.4,10.3 923.8,11.4 930.2,15.7 937.7,37.1 939.8,44.6 946.3,44.6 950.5,52.0 957.0,58.5 954.8,63.8 951.6,65.5 948.4,67.0 946.2,69.1 944.5,71.7 941.9,73.4 939.8,75.6 936.7,74.3 933.4,73.4 931.3,78.8 929.4,81.5 926.9,83.7 924.9,86.3 923.2,89.8 920.6,92.7 918.4,97.0 916.6,99.7 915.5,102.6 914.2,105.5 913.9,109.2 913.0,112.7 912.0,116.2 891.7,70.2 894.9,67.0 898.1,53.1 898.1,34.9 901.3,26.4"/>
<polygon fill="#2f2dbb" points="872.5,135.8 884.1,132.3 911.5,128.2 912.2,123.4 916.3,126.2 913.6,132.3 917.7,135.8 921.8,140.5 925.9,144.7 931.4,141.9 930.0,137.1 931.4,136.4 934.1,141.9 925.9,148.8 919.0,148.8 914.9,152.9 910.8,151.5 909.5,144.7 902.6,146.7 873.8,152.2"/>
<polygon fill="#2f2dbb" points="902.6,146.7 909.5,144.7 910.8,151.5 909.5,159.7 904.7,161.1"/>
<polygon fill="#00a2e8" points="873.8,152.2 902.6,146.7 904.7,161.1 887.5,165.2 876.6,174.8"/>
<polygon fill="#2f2dbb" points="922.0,152.0 926.0,151.0 927.0,154.0 923.0,155.0"/>
<polygon fill="#2f2dbb" points="932.0,151.0 936.0,152.0 934.0,155.0 931.0,154.0"/>
<polygon fill="#fff8bf" points="61.6,449.0 64.7,446.7 67.6,444.2 70.6,443.4 73.7,442.8 76.6,441.8 79.5,440.6 82.2,439.2 85.2,438.6 88.3,438.3 91.2,437.3 93.9,435.8 97.3,438.0 101.1,439.4 104.0,440.8 107.1,441.7 110.0,443.0 137.5,455.0 135.5,528.8 138.6,529.1 141.6,528.8 144.4,532.9 146.3,535.9 148.6,538.6 151.2,541.1 152.3,537.5 154.0,534.2 156.7,533.6 158.2,536.3 160.2,538.7 162.0,541.2 163.7,543.7 164.9,546.6 166.7,549.6 169.4,551.8 171.3,554.7 173.2,557.5 175.9,559.0 178.6,560.3 178.1,563.7 178.6,567.1 175.9,568.5 173.2,569.9 169.0,569.2 164.9,568.5 163.0,565.9 161.9,562.8 159.6,560.5 158.6,557.4 156.7,554.8 155.7,551.9 154.2,549.2 153.1,546.3 151.2,543.8 148.9,541.1 147.0,538.1 144.4,535.6 141.2,534.1 138.1,532.7 134.8,531.5 131.3,531.4 128.0,530.0 124.5,530.2 121.1,529.5 118.2,526.9 115.6,524.0 111.4,523.7 107.4,522.6 105.5,520.1 103.3,517.8 100.4,518.9 97.8,520.5 95.4,522.6 92.7,524.3 90.8,526.9 88.2,528.8 84.1,532.9 80.0,537.0 77.2,538.8 74.3,540.5 70.9,541.3 68.3,543.6 65.2,544.9 62.4,546.4 59.4,547.1 56.4,548.2 53.9,550.1 50.8,550.9 47.9,551.9 45.3,553.4 42.5,554.7 39.6,555.6 36.9,557.0 34.0,558.0 30.8,558.6 27.6,559.4 24.5,560.4 21.2,560.3 18.1,561.5 14.8,561.7 17.9,561.3 20.5,559.6 23.4,558.8 26.3,557.7 29.2,556.9 32.5,555.9 36.1,555.5 39.1,553.5 42.5,552.6 46.0,552.1 48.8,550.4 52.1,549.9 55.2,548.9 58.0,547.3 60.9,545.2 63.6,542.7 65.9,539.9 68.8,537.7 66.7,534.2 65.2,530.5 62.2,528.5 58.9,527.1 55.6,525.7 53.3,523.2 51.0,520.7 48.4,518.5 47.1,514.9 46.0,511.3 47.1,508.2 47.1,504.8 48.4,501.7 49.9,498.5 52.0,495.7 55.5,494.7 59.3,494.4 62.8,493.3 64.8,490.9 67.9,489.8 70.0,487.4 67.6,482.6 64.6,481.1 61.2,480.7 58.4,478.5 55.0,478.1 52.0,476.6 51.3,473.4 49.6,470.6 54.0,469.9 58.0,468.2 61.3,469.2 64.6,470.1 67.6,471.8 71.2,473.0 69.4,470.2 68.8,467.0 67.2,463.9 65.2,461.0 62.6,458.8 60.4,456.2 60.5,452.5"/>
<polygon fill="#2f2dbb" points="211.0,497.0 217.0,495.0 222.0,498.0 221.0,503.0 215.0,504.0 211.0,501.0"/>
<polygon fill="#2f2dbb" points="201.0,503.0 204.0,500.0 205.0,503.0 202.0,505.0"/>
<polygon fill="#2f2dbb" points="243.7,511.0 250.0,508.4 256.4,516.2 257.5,519.4 248.0,518.4"/>
<polygon fill="#2f2dbb" points="266.0,521.0 278.7,522.0 278.0,524.5 267.0,523.7"/>
<polygon fill="#2f2dbb" points="271.0,528.0 275.0,528.0 276.0,531.0 272.0,531.0"/>
<polygon fill="#2f2dbb" points="279.7,525.8 285.0,526.0 290.0,531.0 295.6,531.0 294.0,536.0 287.0,536.4 282.0,530.0"/>
<polygon fill="#2f2dbb" points="280.0,535.0 283.0,535.0 283.0,537.0 280.0,537.0"/>
<polygon fill="#2f2dbb" points="296.7,543.8 303.0,543.8 311.6,553.4 321.0,561.9 311.6,568.2 302.0,575.6 296.7,570.3 293.5,556.6"/>
<polygon fill="#ff5757" points="596.0,68.0 604.0,60.5 605.5,61.5 597.5,69.0"/>
<polygon fill="#fff8bf" points="31.6,483.0 34.0,482.6 40.0,488.0 38.0,489.5"/>
<polygon fill="#fff8bf" points="37.6,513.0 42.0,512.5 43.6,515.5 39.0,516.5"/>
<polygon fill="#fff8bf" points="82.0,547.0 86.0,541.0 91.5,540.0 90.0,546.0 84.0,549.7"/>
<polygon fill="#fff8bf" points="19.0,501.0 20.5,501.5 21.0,504.0 19.5,503.5"/>
<polygon fill="#00a2e8" points="37.0,346.0 41.0,346.0 41.0,348.5 37.0,348.5"/>
<polygon fill="#00a2e8" points="43.0,347.0 49.5,347.5 49.5,349.0 43.0,348.5"/>
<polygon fill="#00a2e8" points="66.0,366.0 68.5,367.0 69.5,369.5 67.0,369.0"/>
<polygon fill="#00a2e8" points="64.0,376.0 65.5,377.0 66.5,380.5 64.5,380.0"/>
<polygon fill="#fff" points="13.0,244.0 20.0,244.5 24.0,246.5 35.0,248.0 34.0,249.5 23.0,249.5 20.0,254.0 22.5,261.0 19.0,259.0 17.0,250.0"/>
<polygon fill="#fff" points="612.0,473.0 618.0,471.5 624.0,472.5 625.0,476.0 617.0,477.0 612.5,476.0"/>
</g>
<path d="M76.5,13.5 L78.5,17 L78,21 L75.5,25 L72,29 M79.5,14 L80.5,18 L79.5,22 M74,35 L72.5,39 L69,41" fill="none" stroke="#000" stroke-width="1.1"/><ellipse cx="71.8" cy="9.3" rx="1.3" ry="1.6" fill="none" stroke="#000" stroke-width="0.9"/>
<path d="M154.5,537 L157,543 L160,546 L163,552 L166,553 L169,560 L171,561 L175,567 M157,539 L161,545 L163,549 L166,551 L169,557 L172,559 L174,563 M152,541 L155,547 L158,551 L160,556 L163,559 L165,563 L168,566 L170,568 M159,552 L162,556 L167,563 L172,566 M108,521 L116,526 L122,528" fill="none" stroke="#000" stroke-width="1.2"/>
<path d="M471.5,546 L469.8,555 L470,568 L472.5,578" fill="none" stroke="#000" stroke-width="2.6"/><path d="M471.5,546 L469.8,555 L470,568 L472.5,578" fill="none" stroke="#fff" stroke-width="0.8"/>
<path d="M861.6,283.9 L867.8,291.6 L875.5,300.8 L877,311.6 L870.9,319.3" fill="none" stroke="#000" stroke-width="1.4"/>
<text x="337" y="33.2" font-size="26.6" fill="#000" textLength="523" lengthAdjust="spacing">State Legislatures After the 2016 Elections</text>
<text x="840.5" y="368" font-size="19" fill="#000">Majority Party</text>
<g stroke="#000" stroke-width="1">
<rect x="841.5" y="385.5" width="27" height="15" fill="#2f2dbb"/>
<rect x="841.5" y="412.5" width="27" height="15" fill="#00a2e8"/>
<rect x="841.5" y="439.5" width="27" height="15" fill="#fff8bf"/>
<rect x="841.5" y="466.5" width="27" height="15" fill="#ff5757"/>
<rect x="841.5" y="494.5" width="27" height="15" fill="#9c0c12"/>
</g>
<g font-size="16.6" fill="#000">
<text x="876.5" y="399">Dem Veto-Proof (4)</text>
<text x="876.5" y="426">Democratic (9)</text>
<text x="876.5" y="453">Divided (5)</text>
<text x="876.5" y="480">Republican (15)</text>
<text x="876.5" y="508">Rep Veto-Proof (17)</text>
</g>
<g font-size="13.5" fill="#000">
<text x="509" y="530" textLength="224" lengthAdjust="spacing">• Republicans control the NY and WA</text>
<text x="509" y="545" textLength="234" lengthAdjust="spacing">senates thanks to renegade Democrats</text>
<text x="509" y="561" textLength="264" lengthAdjust="spacing">• Democrats control the AK House thanks to</text>
<text x="509" y="577" textLength="240.5" lengthAdjust="spacing">independents and renegade Republicans</text>
</g>
<g id="logo" fill="none" stroke="#de8a26" stroke-width="2.4" stroke-linecap="butt">
<path d="M905.5,245.5 C912,239.5 920,235.5 929,236.5 C936,237.5 940,240 946,239.5 C953,239 959,236.5 967,236.5"/>
<path d="M907.5,250.5 C914,244.5 921,240.5 930,241.5 C937,242.5 941,245 947,244.5 C953,244 958,241.5 964,241"/>
<path d="M910,255.5 C916,249.5 923,245.5 932,246.5 C938,247.5 941,249.5 945,249"/>
<path d="M914.5,259.5 C919,255 925,251 933,251.5 C936,251.8 938,253 940,252.5"/>
</g>
<g fill="#de8a26">
<path d="M944.5,228 L958,226.8 L966,236.5 L951,238.5 Z" fill="#f2d2a8"/>
<g fill="#de8a26"><circle cx="948" cy="230" r="0.6"/><circle cx="951" cy="229.5" r="0.6"/><circle cx="954" cy="229" r="0.6"/><circle cx="950" cy="233" r="0.6"/><circle cx="953" cy="232.5" r="0.6"/><circle cx="956" cy="232" r="0.6"/><circle cx="958" cy="235" r="0.6"/><circle cx="955" cy="235.5" r="0.6"/></g>
<line x1="958" y1="226.8" x2="980.5" y2="251.5" stroke="#d9a86e" stroke-width="0.9"/>
<circle cx="958.8" cy="248.3" r="1.9"/>
<path d="M955.5,260 L956,252.5 L959.5,250.2 L965,250.5 L971.5,246 L973.5,247.5 L968.5,253 L968.5,260 Z"/>
</g>
<g fill="#d98c2e" stroke="#d98c2e" stroke-width="0.9">
<g transform="translate(0,278.3)">
<text x="0" y="0" font-size="20" font-weight="bold" transform="translate(906.8,0) scale(0.53,1)">D</text>
<text x="0" y="0" font-size="20" font-weight="bold" transform="translate(918.5,0) scale(0.53,1)">A</text>
<text x="0" y="0" font-size="20" font-weight="bold" transform="translate(930.3,0) scale(0.53,1)">I</text>
<text x="0" y="0" font-size="20" font-weight="bold" transform="translate(937.5,0) scale(0.53,1)">L</text>
<text x="0" y="0" font-size="20" font-weight="bold" transform="translate(946.5,0) scale(0.53,1)">Y</text>
<text x="0" y="0" font-size="20" font-weight="bold" transform="translate(966,0) scale(0.53,1)">K</text>
<text x="0" y="0" font-size="20" font-weight="bold" transform="translate(978,0) scale(0.53,1)">O</text>
<text x="0" y="0" font-size="20" font-weight="bold" transform="translate(989.3,0) scale(0.53,1)">S</text>
</g>
</g>
<text x="910.8" y="291.5" font-size="12.3" font-weight="bold" fill="#d98c2e" letter-spacing="1.75">ELECTIONS</text>

</svg>
</body></html>
